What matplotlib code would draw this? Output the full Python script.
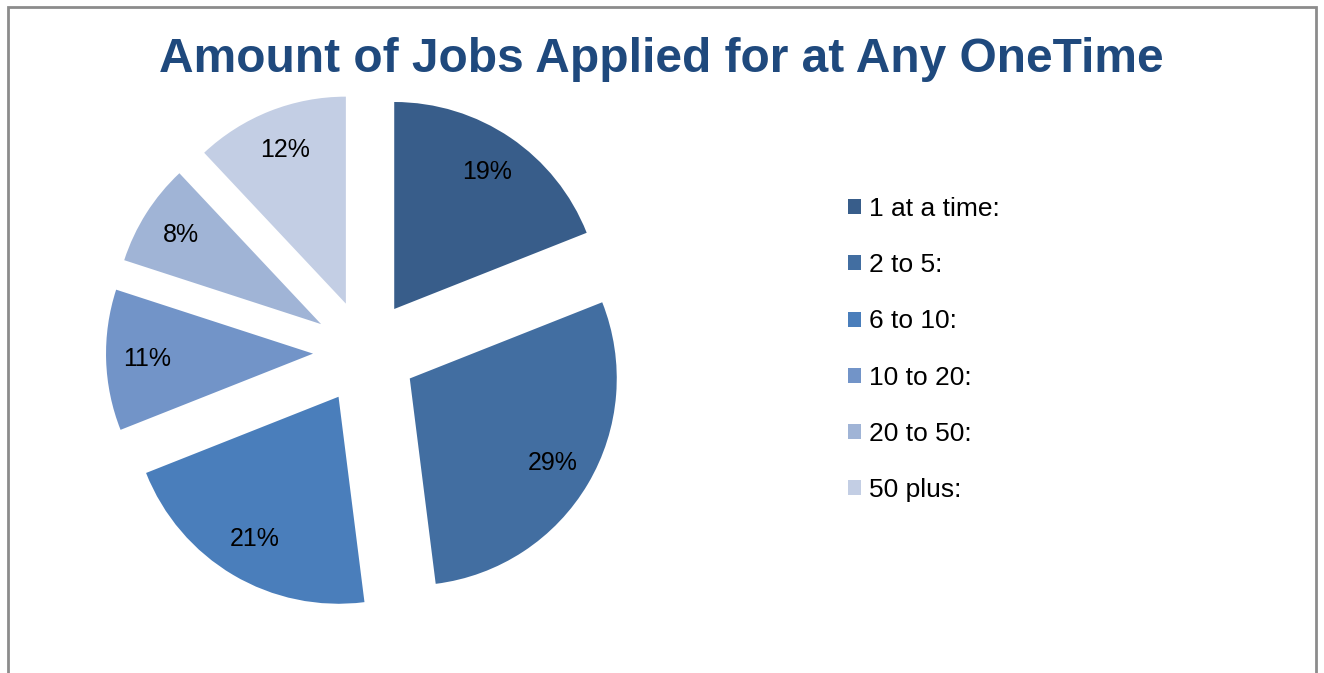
import matplotlib.pyplot as plt
from matplotlib.patches import Patch

plt.rcParams['font.family'] = ['Liberation Sans', 'DejaVu Sans']

title = "Amount of Jobs Applied for at Any OneTime"
categories = ["1 at a time:", "2 to 5:", "6 to 10:", "10 to 20:", "20 to 50:", "50 plus:"]
shares = [19, 29, 21, 11, 8, 12]
colors = ["#385D8A", "#426EA1", "#4A7EBB", "#7294C8", "#A0B4D6", "#C3CEE4"]

W, H = 1324, 673
fig = plt.figure(figsize=(W / 100, H / 100), dpi=100)
ax = fig.add_axes([0, 0, 1, 1])
ax.set_aspect('equal')
ax.axis('off')

# pie centre / radius in pixels, explode is absolute (pixels too)
wedges, texts, pcts = ax.pie(
    shares, colors=colors, startangle=90, counterclock=False,
    center=(365, H - 352), radius=207, explode=[52] * len(shares),
    autopct='%1.0f%%', pctdistance=0.8,
    textprops=dict(fontsize=18, color='black'),
    wedgeprops=dict(linewidth=0))
ax.set_xlim(0, W)
ax.set_ylim(0, H)

fig.text(661 / W, 1 - 59 / H, title, ha='center', va='center',
         fontsize=34.5, fontweight='bold', color='#1F497D')

handles = [Patch(facecolor=c, edgecolor='none') for c in colors]
fig.legend(handles, categories, loc='upper left',
           bbox_to_anchor=(848 / W, 1 - 197 / H), frameon=False,
           fontsize=19, handlelength=0.5, handleheight=0.5,
           handletextpad=0.3, labelspacing=1.22, borderpad=0, borderaxespad=0)

# outer chart border (bottom edge cut off)
ax.plot([8, 8, 1316, 1316], [0, H - 7, H - 7, 0], color='#8C8C8C', lw=2,
        solid_joinstyle='miter', clip_on=False)

fig.savefig('out.png', dpi=100)
